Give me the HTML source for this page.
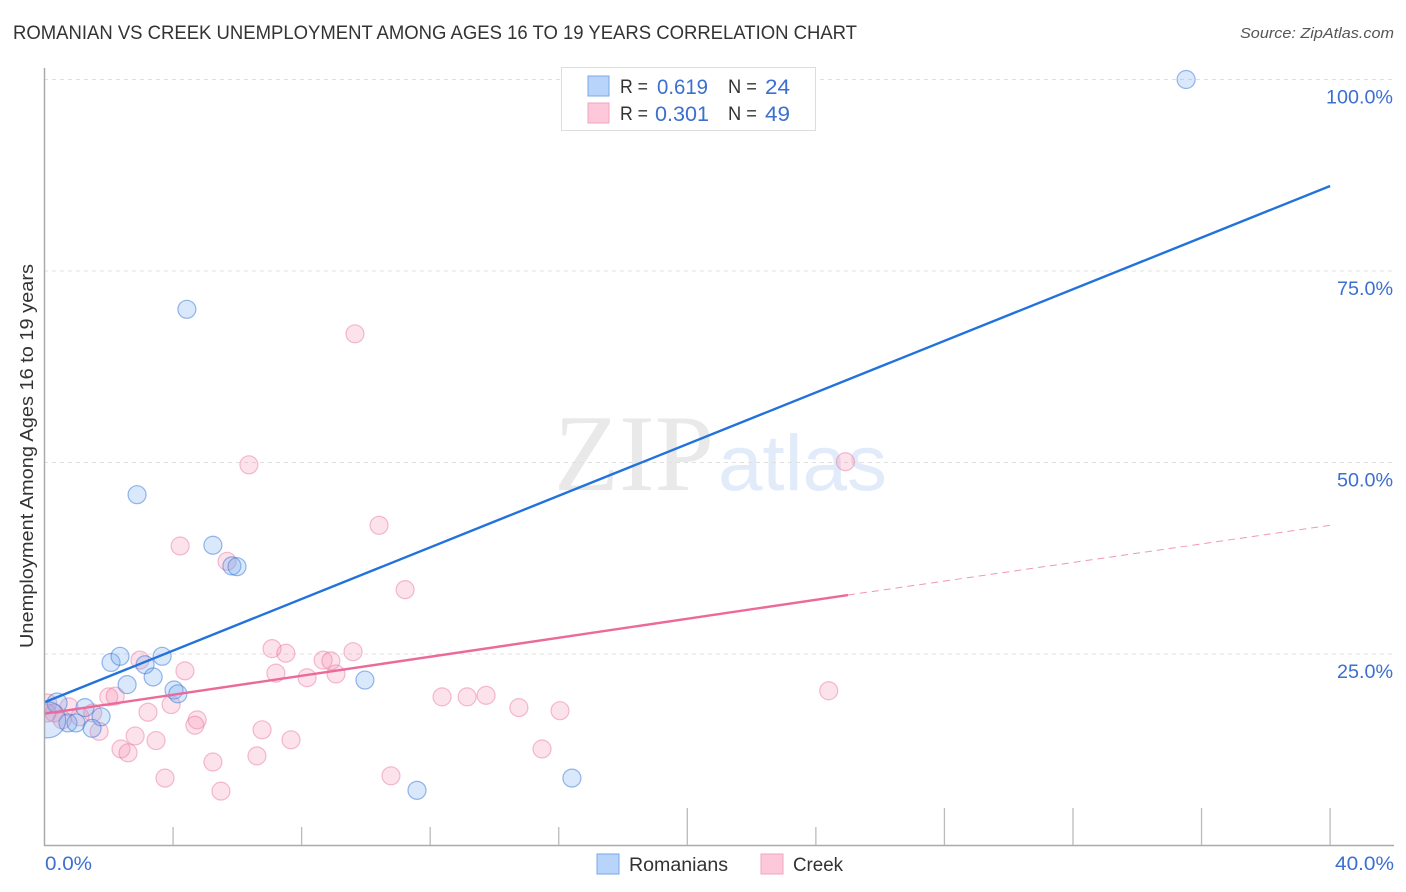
<!DOCTYPE html>
<html>
<head>
<meta charset="utf-8">
<title>Romanian vs Creek Unemployment Correlation Chart</title>
<style>
html,body{margin:0;padding:0;background:#fff;width:1406px;height:892px;overflow:hidden}
svg{display:block}
text{font-family:"Liberation Sans",sans-serif}
</style>
</head>
<body>
<svg id="chart" width="1406" height="892" viewBox="0 0 1406 892" xmlns="http://www.w3.org/2000/svg">
  <defs><clipPath id="plot-clip"><rect x="44" y="60" width="1350" height="785"/></clipPath></defs>
  <text x="13" y="39" font-size="19" fill="#333" textLength="844" lengthAdjust="spacingAndGlyphs">ROMANIAN VS CREEK UNEMPLOYMENT AMONG AGES 16 TO 19 YEARS CORRELATION CHART</text>
  <text x="1394" y="38" font-size="15" font-style="italic" fill="#555" text-anchor="end" textLength="154" lengthAdjust="spacingAndGlyphs">Source: ZipAtlas.com</text>
  <g>
    <text x="554" y="490" font-size="109" fill="#e9e9e9" textLength="160" lengthAdjust="spacingAndGlyphs" style="font-family:'Liberation Serif',serif">ZIP</text>
    <text x="718" y="490" font-size="79" fill="#e2ebf9" textLength="169" lengthAdjust="spacingAndGlyphs">atlas</text>
  </g>
  <g id="grid"></g>
  <g id="points" clip-path="url(#plot-clip)"></g>
  <g id="trends"></g>
  <g id="axes">
    <line x1="44.5" y1="68" x2="44.5" y2="846" stroke="#aaa" stroke-width="1.5"/>
    <line x1="44" y1="845.5" x2="1394" y2="845.5" stroke="#aaa" stroke-width="1.5"/>
  </g>
  <text transform="translate(33,456) rotate(-90)" font-size="18" fill="#333" text-anchor="middle" textLength="384" lengthAdjust="spacingAndGlyphs">Unemployment Among Ages 16 to 19 years</text>
  <text x="45" y="870" font-size="19" fill="#3b6fd0" textLength="47" lengthAdjust="spacingAndGlyphs">0.0%</text>
  <text x="1394" y="870" font-size="19" fill="#3b6fd0" text-anchor="end" textLength="59" lengthAdjust="spacingAndGlyphs">40.0%</text>

  <g>
    <rect x="561.5" y="67.5" width="254" height="63" fill="#fff" stroke="#ddd" stroke-width="1"/>
    <rect x="588" y="76" width="21" height="20" fill="#b9d4fa" stroke="#79a8e6" stroke-width="1"/>
    <rect x="588" y="103" width="21" height="20" fill="#fdc9da" stroke="#f0a5bf" stroke-width="1"/>
    <text x="620" y="93" font-size="19" fill="#333" textLength="28" lengthAdjust="spacingAndGlyphs">R =</text>
    <text x="657" y="94" font-size="21" fill="#3b6fd0" textLength="51" lengthAdjust="spacingAndGlyphs">0.619</text>
    <text x="728" y="93" font-size="19" fill="#333" textLength="29" lengthAdjust="spacingAndGlyphs">N =</text>
    <text x="765" y="94" font-size="21" fill="#3b6fd0" textLength="25" lengthAdjust="spacingAndGlyphs">24</text>
    <text x="620" y="120" font-size="19" fill="#333" textLength="28" lengthAdjust="spacingAndGlyphs">R =</text>
    <text x="655" y="121" font-size="21" fill="#3b6fd0" textLength="54" lengthAdjust="spacingAndGlyphs">0.301</text>
    <text x="728" y="120" font-size="19" fill="#333" textLength="29" lengthAdjust="spacingAndGlyphs">N =</text>
    <text x="765" y="121" font-size="21" fill="#3b6fd0" textLength="25" lengthAdjust="spacingAndGlyphs">49</text>
  </g>

  <g>
    <g>
      <rect x="597" y="854" width="22" height="20" fill="#b9d4fa" stroke="#79a8e6" stroke-width="1"/>
      <text x="629" y="871" font-size="19" fill="#333" textLength="99" lengthAdjust="spacingAndGlyphs">Romanians</text>
    </g>
    <g>
      <rect x="761" y="854" width="22" height="20" fill="#fdc9da" stroke="#f0a5bf" stroke-width="1"/>
      <text x="793" y="871" font-size="19" fill="#333" textLength="50" lengthAdjust="spacingAndGlyphs">Creek</text>
    </g>
  </g>
</svg>
<script>
// Data
const yTicks = [25, 50, 75, 100];
const yTickLabels = ["25.0%", "50.0%", "75.0%", "100.0%"];
const xTicks = [4, 8, 12, 16, 20, 24, 28, 32, 36, 40];
const xTickMajor = [false, false, false, false, true, false, true, true, true, true];

const romaniansX = [35.52, 4.43, 2.88, 5.24, 5.83, 5.99, 2.07, 2.35, 3.66, 3.13, 3.38, 2.57, 4.03, 4.15, 9.97, 0.39, 1.26, 1.76, 0.73, 0.98, 1.48, 11.59, 16.41, 0.1];
const romaniansY = [100, 70.0, 45.8, 39.2, 36.5, 36.4, 23.9, 24.7, 24.7, 23.6, 22.0, 21.0, 20.3, 19.8, 21.6, 18.6, 18.0, 16.8, 16.0, 16.0, 15.3, 7.2, 8.8, 16.4];
const romaniansSize = [9, 9, 9, 9, 9, 9, 9, 9, 9, 9, 9, 9, 9, 9, 9, 10, 9, 9, 9, 9, 9, 9, 9, 18];

const creekX = [24.92, 9.66, 6.36, 10.41, 4.22, 5.68, 11.22, 7.08, 7.51, 9.6, 8.67, 8.91, 2.97, 4.37, 7.2, 8.17, 9.07, 24.4, 12.37, 13.15, 13.74, 14.76, 16.04, 15.48, 2.0, 2.2, 3.22, 3.94, 4.75, 4.68, 1.7, 2.82, 2.38, 2.6, 3.47, 3.75, 5.24, 5.49, 6.61, 6.77, 7.67, 10.78, 0.1, 0.3, 0.76, 0.55, 1.1, 1.5, 0.08];
const creekY = [50.1, 66.8, 49.7, 41.8, 39.1, 37.1, 33.4, 25.7, 25.1, 25.3, 24.2, 24.1, 24.2, 22.8, 22.5, 21.9, 22.4, 20.2, 19.4, 19.4, 19.6, 18.0, 17.6, 12.6, 19.4, 19.5, 17.4, 18.4, 16.4, 15.7, 14.9, 14.3, 12.6, 12.1, 13.7, 8.8, 10.9, 7.1, 11.7, 15.1, 13.8, 9.1, 18.6, 17.3, 18.1, 16.4, 16.8, 17.3, 17.3];

const romaniansTrendX = [0, 40];
const romaniansTrendY = [18.7, 86.1];
const creekTrendX = [0, 25];
const creekTrendY = [17.2, 32.7];
const creekDashX = [25, 40];
const creekDashY = [32.7, 41.8];

// Axis functions
function xScale(v) { return 44.5 + v * 32.14; }
function yScale(v) { return 845.5 - v * 7.66; }

const NS = 'http://www.w3.org/2000/svg';
function make(parent, tag, attrs, text) {
  const el = document.createElementNS(NS, tag);
  for (const k in attrs) el.setAttribute(k, attrs[k]);
  if (text !== undefined) el.textContent = text;
  parent.appendChild(el);
  return el;
}

const grid = document.getElementById('grid');
const axes = document.getElementById('axes');
const pointsG = document.getElementById('points');
const trends = document.getElementById('trends');

yTicks.forEach(function (t, i) {
  const line = make(grid, 'line', {x1: 44, x2: 1394, y1: yScale(t), y2: yScale(t), stroke: '#e0e0e0', 'stroke-width': 1, 'stroke-dasharray': '4 4'});
  
  
  const label = make(axes, 'text', {x: 1393, y: yScale(t) + 24, 'font-size': 19, fill: '#3b6fd0', 'text-anchor': 'end', textLength: yTickLabels[i].length > 5 ? 67 : 56, lengthAdjust: 'spacingAndGlyphs'}, yTickLabels[i]);
  
  
});

xTicks.forEach(function (t, i) {
  const tick = make(axes, 'line', {x1: xScale(t), x2: xScale(t), y1: 845, y2: xTickMajor[i] ? 808 : 827, stroke: '#bbb', 'stroke-width': 1.3});
  
  
});

creekX.forEach(function (x, i) {
  const c = make(pointsG, 'circle', {cx: xScale(x), cy: yScale(creekY[i]), r: 9, fill: 'rgba(244,140,175,0.25)', stroke: 'rgba(232,110,155,0.45)', 'stroke-width': 1.2});
  
  
});

romaniansX.forEach(function (x, i) {
  const c = make(pointsG, 'circle', {cx: xScale(x), cy: yScale(romaniansY[i]), r: romaniansSize[i], fill: 'rgba(110,165,240,0.26)', stroke: 'rgba(50,115,215,0.5)', 'stroke-width': 1.2});
  
  
});

const blueTrend = make(trends, 'line', {x1: xScale(romaniansTrendX[0]), y1: yScale(romaniansTrendY[0]), x2: xScale(romaniansTrendX[1]), y2: yScale(romaniansTrendY[1]), stroke: '#2272dc', 'stroke-width': 2.4});



const pinkTrend = make(trends, 'line', {x1: xScale(creekTrendX[0]), y1: yScale(creekTrendY[0]), x2: xScale(creekTrendX[1]), y2: yScale(creekTrendY[1]), stroke: '#ec6a9a', 'stroke-width': 2.4});



const pinkDash = make(trends, 'line', {x1: xScale(creekDashX[0]), y1: yScale(creekDashY[0]), x2: xScale(creekDashX[1]), y2: yScale(creekDashY[1]), stroke: '#ec6a9a', 'stroke-width': 1, 'stroke-dasharray': '7 5', opacity: 0.7});


</script>
</body>
</html>
